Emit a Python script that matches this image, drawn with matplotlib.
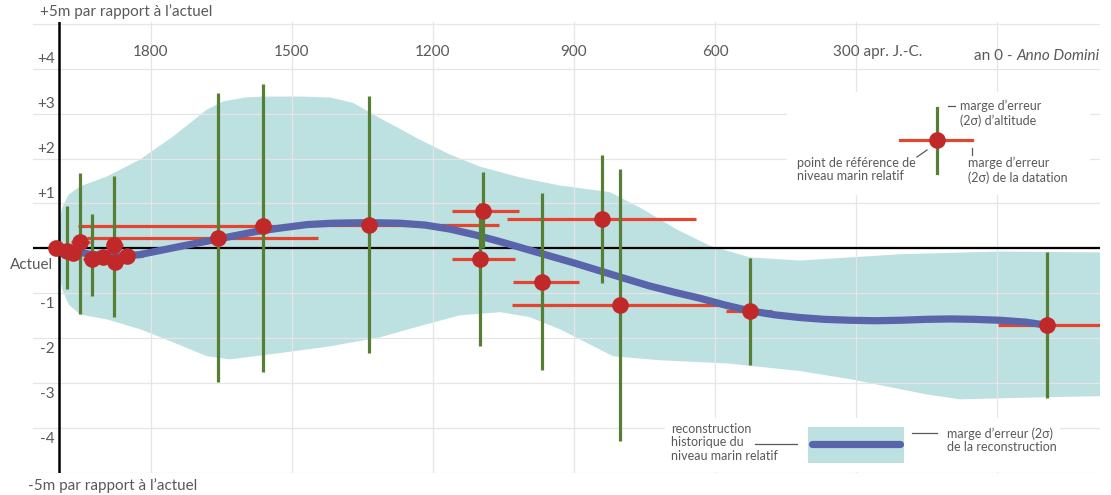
import matplotlib
matplotlib.use('Agg')
import matplotlib.pyplot as plt
import matplotlib.transforms as mtransforms
from matplotlib.patches import Rectangle
import numpy as np

plt.rcParams['font.family'] = ['Lato', 'DejaVu Sans']

# --- données (année, niveau marin en m par rapport à l'actuel) ---
pt_year = [2003, 1979, 1966, 1951, 1926, 1902, 1879, 1877, 1852,
           1657, 1562, 1336, 1094, 1100, 968, 840, 802, 526, -106]
pt_level = [0.0, -0.06, -0.1, 0.14, -0.23, -0.2, 0.07, -0.3, -0.17,
            0.24, 0.49, 0.53, 0.84, -0.23, -0.74, 0.66, -1.26, -1.39, -1.71]
# marge d'erreur de la datation (bornes en années)
date_hi = [2015, 1995, 1985, 1970, 1945, 1920, 1895, 1895, 1870,
           1936, 1955, 1483, 1160, 1160, 1030, 1043, 1032, 577, -2]
date_lo = [1985, 1960, 1945, 1930, 1905, 1880, 1860, 1855, 1817,
           1445, 1483, 1060, 1017, 1026, 889, 640, 589, 479, -250]
# marge d'erreur d'altitude (nan = pas de barre)
alt_hi = [np.nan, 0.94, np.nan, 1.68, 0.76, np.nan, 1.62, np.nan, np.nan,
          3.46, 3.67, 3.40, 1.69, 1.00, 1.24, 2.09, 1.76, -0.21, -0.07]
alt_lo = [np.nan, -0.90, np.nan, -1.47, -1.06, np.nan, -1.53, np.nan, np.nan,
          -2.98, -2.76, -2.33, 0.0, -2.18, -2.71, -0.78, -4.28, -2.60, -3.34]

# reconstruction
rec_year = [2003, 1960, 1930, 1895, 1860, 1825, 1787, 1735, 1681, 1628, 1574,
            1520, 1468, 1415, 1362, 1315, 1270, 1217, 1164, 1110, 1057,
            1004, 951, 898, 845, 792, 738, 685, 632, 579, 526, 472, 419,
            366, 313, 260, 206, 153, 100, 47, -6, -60, -106]
rec_level = [0.02, -0.07, -0.13, -0.16, -0.17, -0.14, -0.06, 0.05, 0.16,
             0.27, 0.38, 0.46, 0.53, 0.56, 0.57, 0.57, 0.56, 0.52, 0.43,
             0.30, 0.15, -0.01, -0.17, -0.33, -0.50, -0.67, -0.84, -0.98,
             -1.11, -1.26, -1.39, -1.48, -1.54, -1.58, -1.60, -1.61, -1.60,
             -1.58, -1.57, -1.58, -1.60, -1.64, -1.71]
band_top_year = [1997, 1993, 1989, 1975, 1951, 1894, 1823, 1753, 1681, 1647,
                 1600, 1562, 1480, 1419, 1370, 1313, 1228, 1164, 1100, 1015,
                 930, 823, 753, 681, 611, 526, 419, 206, -6, -219]
band_top = [0.30, 0.70, 0.91, 1.20, 1.38, 1.60, 1.98, 2.49, 3.09, 3.27,
            3.36, 3.38, 3.38, 3.36, 3.24, 2.90, 2.42, 2.09, 1.82, 1.58,
            1.40, 1.25, 0.87, 0.42, 0.06, -0.20, -0.27, -0.13, -0.07, -0.09]
band_bot_year = [1997, 1993, 1989, 1975, 1951, 1894, 1823, 1753, 1681, 1632,
                 1526, 1419, 1313, 1228, 1143, 1057, 994, 930, 817, 717, 574,
                 419, 313, 150, 79, -113, -219]
band_bot = [-0.30, -0.70, -0.91, -1.25, -1.47, -1.58, -1.80, -2.09, -2.40,
            -2.47, -2.33, -2.18, -1.98, -1.73, -1.49, -1.42, -1.53, -1.80,
            -2.40, -2.49, -2.56, -2.73, -2.91, -3.25, -3.36, -3.31, -3.29]

year_ticks = [1800, 1500, 1200, 900, 600]
level_ticks = [4, 3, 2, 1, -1, -2, -3, -4]

TEXT = '#595959'
RED_LINE = '#e5452f'
RED_DOT = '#c0282a'
GREEN = '#567f35'
BLUE = '#5a64aa'
TEAL = '#bde0e1'
GRID = '#e6e6e6'

fig = plt.figure(figsize=(11.11, 4.95), dpi=100)
ax = fig.add_axes([33 / 1111, 22 / 495, 1067 / 1111, 451 / 495])
ax.set_xlim(2051, -219)
ax.set_ylim(-4.98, 5.04)
for s in ax.spines.values():
    s.set_visible(False)
ax.set_xticks([1800, 1500, 1200, 900, 600, 300, 0])
ax.set_yticks(range(-5, 6))
ax.tick_params(length=0, labelleft=False, labelbottom=False)
ax.set_axisbelow('line')
ax.grid(color=GRID, lw=0.9)

# bande d'erreur
ax.fill(band_top_year + band_bot_year[::-1], band_top + band_bot[::-1],
        color=TEAL, lw=0, zorder=1)

ax.axhline(0, color='black', lw=1.6, zorder=3)
ax.axvline(1995, color='black', lw=1.8, zorder=3)

ax.hlines(pt_level, date_lo, date_hi, color=RED_LINE, lw=2.3, zorder=4)
ax.plot(rec_year, rec_level, color=BLUE, lw=5.2, solid_capstyle='round',
        solid_joinstyle='round', zorder=5)
m = ~np.isnan(np.array(alt_hi))
ax.vlines(np.array(pt_year)[m], np.array(alt_lo)[m], np.array(alt_hi)[m],
          color=GREEN, lw=2.3, zorder=6)
ax.plot(pt_year, pt_level, 'o', color=RED_DOT, ms=12, mec='none', zorder=7)

# étiquettes des axes
for v in level_ticks:
    off = 0.21 if v > 0 else -0.245
    ax.text(22 / 1067, v + off, f'{v:+d}', ha='right', va='center',
            fontsize=11, color=TEXT, transform=ax.get_yaxis_transform())
for yr in year_ticks:
    ax.text(yr, 4.38, str(yr), ha='center', va='center', fontsize=11, color=TEXT)
ax.text(300, 4.38, '300 apr. J.-C.', ha='left', va='center', fontsize=11,
        color=TEXT, transform=mtransforms.offset_copy(ax.transData, fig, x=-23, units='dots'))
t_ad = ax.text(1.0, 0.9238, 'Anno Domini', ha='right', va='center', fontsize=11,
               color=TEXT, style='italic', transform=ax.transAxes)
ax.annotate('an 0 - ', xy=(0, 0.5), xycoords=t_ad, ha='right', va='center',
            fontsize=11, color=TEXT)

fig.text(40 / 1111, 1 - 12 / 495, '+5m par rapport à l’actuel', ha='left',
         va='center', fontsize=11, color=TEXT)
fig.text(28 / 1111, 1 - 486 / 495, '-5m par rapport à l’actuel', ha='left',
         va='center', fontsize=11, color=TEXT)
fig.text(53 / 1111, 1 - 265 / 495, 'Actuel', ha='right', va='center',
         fontsize=11, color=TEXT)

# légende haut droite
T = ax.transAxes
ax.add_patch(Rectangle((0.7067, 0.6164), 0.284, 0.2284, transform=T,
                       fc='white', ec='none', zorder=2.6))
ax.plot([0.8126, 0.880], [0.738, 0.738], color=RED_LINE, lw=2.3, transform=T, zorder=4)
ax.plot([0.847, 0.847], [0.665, 0.809], color=GREEN, lw=2.3, transform=T, zorder=6)
ax.plot([0.847], [0.738], 'o', color=RED_DOT, ms=12, mec='none', transform=T, zorder=7)
ax.plot([0.8576, 0.8641], [0.8137, 0.8137], color=TEXT, lw=0.9, transform=T, zorder=7)
ax.plot([0.8285, 0.8379], [0.7007, 0.7162], color=TEXT, lw=0.9, transform=T, zorder=7)
ax.plot([0.880, 0.880], [0.7051, 0.7206], color=TEXT, lw=0.9, transform=T, zorder=7)
ax.text(0.8688, 0.827, 'marge d’erreur\n(2σ) d’altitude', ha='left', va='top',
        fontsize=9, color=TEXT, linespacing=1.15, transform=T, zorder=8)
ax.text(0.716, 0.7007, 'point de référence de\nniveau marin relatif', ha='left',
        va='top', fontsize=9, color=TEXT, linespacing=1.15, transform=T, zorder=8)
ax.text(0.8763, 0.7007, 'marge d’erreur\n(2σ) de la datation', ha='left',
        va='top', fontsize=9, color=TEXT, linespacing=1.15, transform=T, zorder=8)

# légende bas
ax.add_patch(Rectangle((0.5923, 0.0022), 0.3702, 0.1198, transform=T,
                       fc='white', ec='none', zorder=2.6))
ax.add_patch(Rectangle((0.7264, 0.022), 0.0899, 0.080, transform=T,
                       fc=TEAL, ec='none', zorder=3))
ax.plot([0.7300, 0.8127], [0.0643, 0.0643], color=BLUE, lw=5.2,
        solid_capstyle='round', transform=T, zorder=5)
ax.plot([0.6767, 0.716], [0.0643, 0.0643], color=TEXT, lw=0.9, transform=T, zorder=7)
ax.plot([0.8238, 0.8472], [0.0887, 0.0887], color=TEXT, lw=0.9, transform=T, zorder=7)
ax.text(0.598, 0.111, 'reconstruction\nhistorique du\nniveau marin relatif',
        ha='left', va='top', fontsize=9, color=TEXT, linespacing=1.15,
        transform=T, zorder=8)
ax.text(0.8566, 0.102, 'marge d’erreur (2σ)\nde la reconstruction', ha='left',
        va='top', fontsize=9, color=TEXT, linespacing=1.15, transform=T, zorder=8)

fig.savefig('out.png', dpi=100)
